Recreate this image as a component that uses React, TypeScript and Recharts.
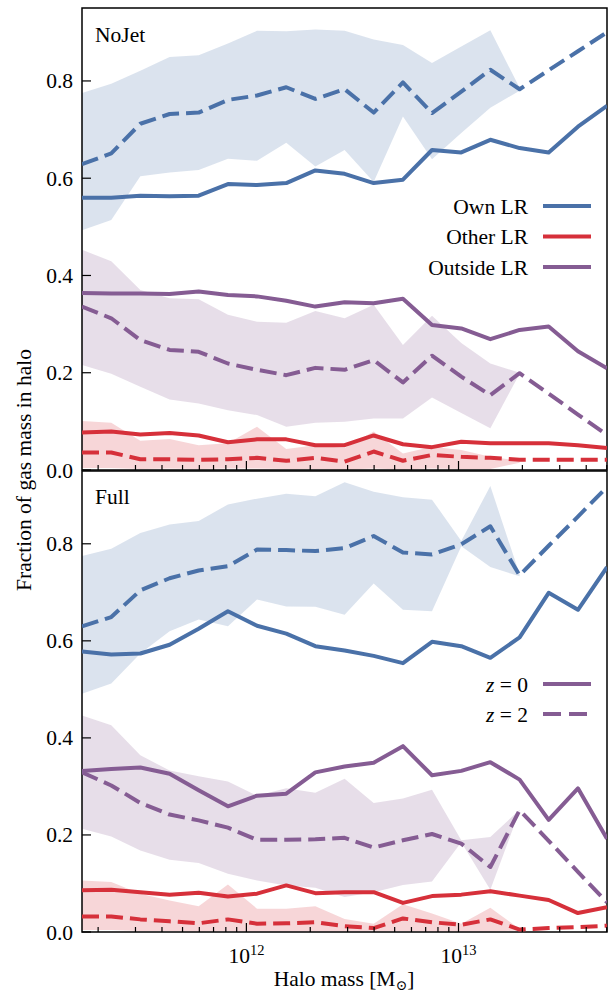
import { ComposedChart, Line, Area, XAxis, YAxis, ReferenceArea } from 'recharts';

const BLUE = '#4A71A8';
const RED = '#D6303A';
const PURPLE = '#855C93';
const FONT = '"Liberation Serif", "DejaVu Serif", serif';
const FS = 21.5;

// log10 halo mass of each bin (x positions)
const massLog = [
  11.225, 11.363, 11.5, 11.638, 11.775, 11.913, 12.05, 12.188, 12.325, 12.463,
  12.6, 12.738, 12.875, 13.013, 13.15, 13.288, 13.425, 13.563, 13.7,
];
const xDomain = [11.225, 13.7];
const tickMasses = [
  2e11, 3e11, 4e11, 5e11, 6e11, 7e11, 8e11, 9e11, 1e12, 2e12, 3e12, 4e12, 5e12, 6e12,
  7e12, 8e12, 9e12, 1e13, 2e13, 3e13, 4e13, 5e13,
];
const yTicks = [0, 0.2, 0.4, 0.6, 0.8];

// NoJet panel
const nojetOwnZ0 = [0.56, 0.56, 0.564, 0.563, 0.564, 0.588, 0.586, 0.59, 0.616, 0.609, 0.59, 0.597, 0.658, 0.653, 0.679, 0.662, 0.653, 0.706, 0.749];
const nojetOwnZ2 = [0.629, 0.651, 0.712, 0.732, 0.735, 0.761, 0.77, 0.787, 0.763, 0.783, 0.735, 0.797, 0.734, 0.778, 0.823, 0.783, 0.822, 0.861, 0.9];
const nojetOwnHi = [0.775, 0.794, 0.821, 0.849, 0.853, 0.877, 0.903, 0.902, 0.906, 0.903, 0.885, 0.874, 0.837, 0.871, 0.904, 0.786, null, null, null];
const nojetOwnLo = [0.493, 0.514, 0.604, 0.612, 0.617, 0.64, 0.636, 0.673, 0.624, 0.658, 0.592, 0.727, 0.639, 0.693, 0.745, 0.78, null, null, null];
const nojetOtherZ0 = [0.077, 0.079, 0.073, 0.076, 0.071, 0.057, 0.063, 0.063, 0.051, 0.051, 0.071, 0.053, 0.047, 0.058, 0.055, 0.055, 0.055, 0.051, 0.045];
const nojetOtherZ2 = [0.036, 0.036, 0.022, 0.022, 0.021, 0.022, 0.025, 0.019, 0.025, 0.017, 0.038, 0.019, 0.031, 0.027, 0.025, 0.021, 0.021, 0.021, 0.021];
const nojetOtherHi = [0.101, 0.097, 0.06, 0.064, 0.051, 0.055, 0.089, 0.043, 0.051, 0.045, 0.079, 0.034, 0.048, 0.041, 0.027, 0.019, null, null, null];
const nojetOtherLo = [0.004, 0.004, 0.002, 0.003, 0.002, 0.003, 0.003, 0.002, 0.002, 0.001, 0.003, 0.001, 0.003, 0.002, 0.002, 0.015, null, null, null];
const nojetOutZ0 = [0.364, 0.363, 0.363, 0.362, 0.367, 0.36, 0.357, 0.348, 0.336, 0.345, 0.343, 0.352, 0.298, 0.291, 0.269, 0.288, 0.295, 0.244, 0.209];
const nojetOutZ2 = [0.336, 0.312, 0.267, 0.247, 0.243, 0.219, 0.206, 0.195, 0.21, 0.206, 0.226, 0.18, 0.235, 0.192, 0.154, 0.199, 0.157, 0.114, 0.072];
const nojetOutHi = [0.453, 0.429, 0.37, 0.353, 0.351, 0.319, 0.305, 0.303, 0.327, 0.312, 0.34, 0.257, 0.317, 0.261, 0.219, 0.2, null, null, null];
const nojetOutLo = [0.216, 0.198, 0.171, 0.145, 0.137, 0.123, 0.113, 0.089, 0.097, 0.099, 0.106, 0.106, 0.149, 0.117, 0.086, 0.198, null, null, null];

// Full panel
const fullOwnZ0 = [0.578, 0.572, 0.574, 0.592, 0.625, 0.661, 0.631, 0.615, 0.589, 0.58, 0.569, 0.554, 0.598, 0.589, 0.565, 0.607, 0.699, 0.664, 0.752];
const fullOwnZ2 = [0.63, 0.649, 0.704, 0.729, 0.745, 0.754, 0.788, 0.787, 0.785, 0.791, 0.816, 0.782, 0.778, 0.799, 0.836, 0.735, 0.796, 0.856, 0.917];
const fullOwnHi = [0.775, 0.79, 0.822, 0.84, 0.847, 0.881, 0.893, 0.903, 0.898, 0.927, 0.907, 0.896, 0.891, 0.806, 0.919, 0.737, null, null, null];
const fullOwnLo = [0.491, 0.512, 0.574, 0.62, 0.644, 0.63, 0.685, 0.671, 0.67, 0.654, 0.718, 0.664, 0.661, 0.795, 0.752, 0.733, null, null, null];
const fullOtherZ0 = [0.086, 0.087, 0.082, 0.077, 0.081, 0.073, 0.079, 0.096, 0.08, 0.082, 0.082, 0.06, 0.074, 0.077, 0.084, 0.075, 0.066, 0.039, 0.051];
const fullOtherZ2 = [0.032, 0.032, 0.026, 0.022, 0.018, 0.026, 0.017, 0.018, 0.02, 0.012, 0.008, 0.028, 0.02, 0.015, 0.026, 0.005, 0.008, 0.01, 0.013];
const fullOtherHi = [0.106, 0.103, 0.079, 0.065, 0.053, 0.098, 0.048, 0.048, 0.053, 0.027, 0.017, 0.057, 0.038, 0.017, 0.05, 0.006, null, null, null];
const fullOtherLo = [0.004, 0.004, 0.002, 0.002, 0.001, 0.002, 0.001, 0.001, 0.001, 0.001, 0.001, 0.002, 0.001, 0.001, 0.001, 0.003, null, null, null];
const fullOutZ0 = [0.332, 0.336, 0.339, 0.326, 0.292, 0.259, 0.281, 0.285, 0.329, 0.341, 0.349, 0.383, 0.323, 0.332, 0.35, 0.314, 0.231, 0.296, 0.192];
const fullOutZ2 = [0.329, 0.302, 0.266, 0.242, 0.23, 0.215, 0.19, 0.19, 0.191, 0.194, 0.174, 0.189, 0.202, 0.182, 0.134, 0.251, 0.188, 0.124, 0.061];
const fullOutHi = [0.446, 0.426, 0.364, 0.333, 0.321, 0.31, 0.281, 0.296, 0.287, 0.316, 0.266, 0.275, 0.293, 0.189, 0.196, 0.252, null, null, null];
const fullOutLo = [0.213, 0.197, 0.168, 0.149, 0.142, 0.12, 0.106, 0.096, 0.091, 0.072, 0.082, 0.097, 0.104, 0.185, 0.087, 0.25, null, null, null];

const band = (lo: (number | null)[], hi: (number | null)[], i: number) =>
  lo[i] == null || hi[i] == null ? null : [lo[i], hi[i]];

const nojetData = massLog.map((m, i) => ({
  m,
  ownZ0: nojetOwnZ0[i], ownZ2: nojetOwnZ2[i], ownBand: band(nojetOwnLo, nojetOwnHi, i),
  otherZ0: nojetOtherZ0[i], otherZ2: nojetOtherZ2[i], otherBand: band(nojetOtherLo, nojetOtherHi, i),
  outZ0: nojetOutZ0[i], outZ2: nojetOutZ2[i], outBand: band(nojetOutLo, nojetOutHi, i),
}));

const fullData = massLog.map((m, i) => ({
  m,
  ownZ0: fullOwnZ0[i], ownZ2: fullOwnZ2[i], ownBand: band(fullOwnLo, fullOwnHi, i),
  otherZ0: fullOtherZ0[i], otherZ2: fullOtherZ2[i], otherBand: band(fullOtherLo, fullOtherHi, i),
  outZ0: fullOutZ0[i], outZ2: fullOutZ2[i], outBand: band(fullOutLo, fullOutHi, i),
}));

const series = [
  { key: 'own', color: BLUE },
  { key: 'other', color: RED },
  { key: 'out', color: PURPLE },
];

const makeXTick = (showLabel: boolean) => (props: any) => {
  const { x, y, payload } = props;
  const v = payload.value;
  const major = Math.abs(v - Math.round(v)) < 1e-6;
  return (
    <g>
      <line x1={x} x2={x} y1={y} y2={y - (major ? 9 : 5)} stroke="#000" strokeWidth={1.2} />
      {showLabel && major && (
        <text x={x} y={y + 31} textAnchor="middle" fontFamily={FONT} fontSize={FS} fill="#000">
          10
          <tspan dy={-8} fontSize={14.5}>
            {Math.round(v)}
          </tspan>
        </text>
      )}
    </g>
  );
};

const YTick = (props: any) => {
  const { x, y, payload } = props;
  return (
    <g>
      <line x1={x} x2={x + 9} y1={y} y2={y} stroke="#000" strokeWidth={1.2} />
      <text x={x - 9} y={y + 7.5} textAnchor="end" fontFamily={FONT} fontSize={FS} fill="#000">
        {payload.value.toFixed(1)}
      </text>
    </g>
  );
};

// plot area: x 82..607; top panel y 8..470, bottom panel y 471..932
function Panel({ data, height, top, marginTop, marginBottom, xHeight, showLabels }: any) {
  return (
    <div style={{ position: 'absolute', left: 0, top }}>
      <ComposedChart
        width={614}
        height={height}
        data={data}
        margin={{ top: marginTop, right: 7, bottom: marginBottom, left: 22 }}
        style={{ overflow: 'visible' }}
      >
        <XAxis
          type="number"
          dataKey="m"
          domain={xDomain}
          ticks={tickMasses.map((t) => Math.log10(t))}
          allowDataOverflow
          height={xHeight}
          axisLine={false}
          tickLine={false}
          tickSize={0}
          tickMargin={0}
          interval={0}
          tick={makeXTick(showLabels)}
        />
        <YAxis
          type="number"
          domain={[0, 0.95]}
          ticks={yTicks}
          allowDataOverflow
          width={60}
          axisLine={false}
          tickLine={false}
          tickSize={0}
          tickMargin={0}
          interval={0}
          tick={<YTick />}
        />
        {series.map((s) => (
          <Area
            key={s.key + 'Band'}
            dataKey={s.key + 'Band'}
            stroke="none"
            fill={s.color}
            fillOpacity={0.2}
            isAnimationActive={false}
          />
        ))}
        {series.map((s) => (
          <Line
            key={s.key + 'Z0'}
            dataKey={s.key + 'Z0'}
            stroke={s.color}
            strokeWidth={4}
            dot={false}
            activeDot={false}
            strokeLinejoin="round"
            isAnimationActive={false}
          />
        ))}
        {series.map((s) => (
          <Line
            key={s.key + 'Z2'}
            dataKey={s.key + 'Z2'}
            stroke={s.color}
            strokeWidth={4}
            strokeDasharray="17 7"
            dot={false}
            activeDot={false}
            strokeLinejoin="round"
            isAnimationActive={false}
          />
        ))}
        <ReferenceArea
          x1={xDomain[0]}
          x2={xDomain[1]}
          y1={0}
          y2={0.95}
          fill="none"
          stroke="#000"
          strokeWidth={1.5}
        />
      </ComposedChart>
    </div>
  );
}

const legendSeries = [
  { label: 'Own LR', color: BLUE },
  { label: 'Other LR', color: RED },
  { label: 'Outside LR', color: PURPLE },
];

export default function App() {
  return (
    <div style={{ position: 'absolute', left: 0, top: 0, width: 614, height: 993, background: '#fff' }}>
      <Panel data={nojetData} height={500} top={0} marginTop={8} marginBottom={22} xHeight={8} showLabels={false} />
      <Panel data={fullData} height={523} top={470} marginTop={1} marginBottom={0} xHeight={61} showLabels={true} />
      <svg
        width={614}
        height={993}
        style={{ position: 'absolute', left: 0, top: 0, pointerEvents: 'none' }}
        fontFamily={FONT}
        fontSize={FS}
      >
        <text x={95} y={41.5}>NoJet</text>
        <text x={95} y={504}>Full</text>
        {legendSeries.map((l, i) => (
          <g key={l.label}>
            <text x={528} y={206 + i * 30.5 + 7.5} textAnchor="end">{l.label}</text>
            <line x1={543} x2={591} y1={206 + i * 30.5} y2={206 + i * 30.5} stroke={l.color} strokeWidth={4} />
          </g>
        ))}
        <text x={528} y={691.5} textAnchor="end">
          <tspan fontStyle="italic">z</tspan> = 0
        </text>
        <line x1={543} x2={591} y1={684} y2={684} stroke={PURPLE} strokeWidth={4} />
        <text x={528} y={721.5} textAnchor="end">
          <tspan fontStyle="italic">z</tspan> = 2
        </text>
        <line x1={543} x2={591} y1={714} y2={714} stroke={PURPLE} strokeWidth={4} strokeDasharray="18 8" />
        <text x={24} y={470} textAnchor="middle" dominantBaseline="central" transform="rotate(-90 24 470)">
          Fraction of gas mass in halo
        </text>
        <text x={344} y={986} textAnchor="middle">
          Halo mass [M
          <tspan fontSize={14} dy={4} fontFamily='"DejaVu Serif", serif'>⊙</tspan>
          <tspan dy={-4}>]</tspan>
        </text>
      </svg>
    </div>
  );
}
